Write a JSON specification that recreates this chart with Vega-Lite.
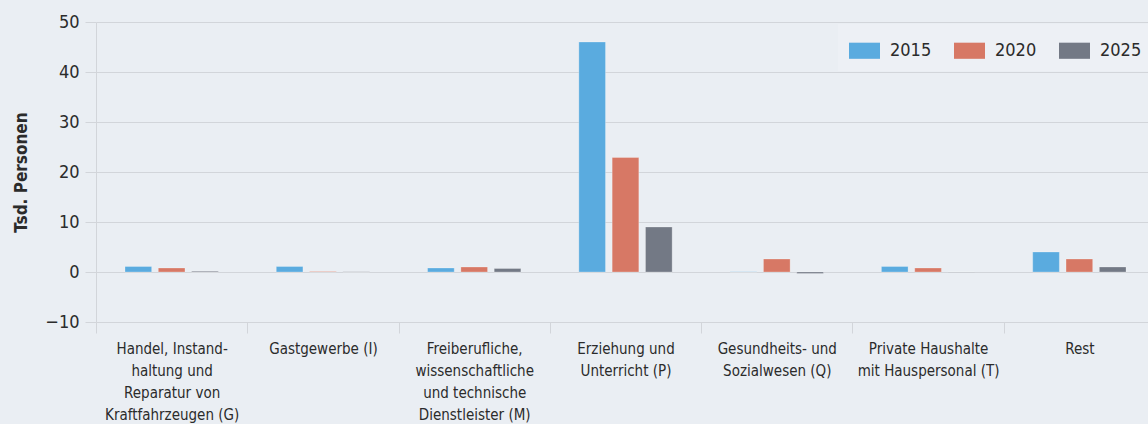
{
  "$schema": "https://vega.github.io/schema/vega-lite/v6.json",
  "autosize": {"type": "none"},
  "width": 1052,
  "height": 300,
  "padding": {"left": 96, "top": 22, "right": 0, "bottom": 102},
  "background": "#eaeef3",
  "config": {
    "view": {"stroke": null},
    "font": "DejaVu Sans Condensed",
    "axis": {"labelColor": "#2b2b2b", "titleColor": "#2b2b2b", "gridColor": "#d2d5da", "tickColor": "#d2d5da", "domainColor": "#d2d5da"}
  },
  "data": {
    "values": [
      {"cat": "Handel, Instand-|haltung und|Reparatur von|Kraftfahrzeugen (G)", "year": "2015", "value": 1.1},
      {"cat": "Handel, Instand-|haltung und|Reparatur von|Kraftfahrzeugen (G)", "year": "2020", "value": 0.8},
      {"cat": "Handel, Instand-|haltung und|Reparatur von|Kraftfahrzeugen (G)", "year": "2025", "value": 0.15},
      {"cat": "Gastgewerbe (I)", "year": "2015", "value": 1.1},
      {"cat": "Gastgewerbe (I)", "year": "2020", "value": 0.1},
      {"cat": "Gastgewerbe (I)", "year": "2025", "value": 0.05},
      {"cat": "Freiberufliche,|wissenschaftliche|und technische|Dienstleister (M)", "year": "2015", "value": 0.8},
      {"cat": "Freiberufliche,|wissenschaftliche|und technische|Dienstleister (M)", "year": "2020", "value": 1.0},
      {"cat": "Freiberufliche,|wissenschaftliche|und technische|Dienstleister (M)", "year": "2025", "value": 0.7},
      {"cat": "Erziehung und|Unterricht (P)", "year": "2015", "value": 46.0},
      {"cat": "Erziehung und|Unterricht (P)", "year": "2020", "value": 22.9},
      {"cat": "Erziehung und|Unterricht (P)", "year": "2025", "value": 9.0},
      {"cat": "Gesundheits- und|Sozialwesen (Q)", "year": "2015", "value": 0.05},
      {"cat": "Gesundheits- und|Sozialwesen (Q)", "year": "2020", "value": 2.6},
      {"cat": "Gesundheits- und|Sozialwesen (Q)", "year": "2025", "value": -0.3},
      {"cat": "Private Haushalte|mit Hauspersonal (T)", "year": "2015", "value": 1.1},
      {"cat": "Private Haushalte|mit Hauspersonal (T)", "year": "2020", "value": 0.8},
      {"cat": "Private Haushalte|mit Hauspersonal (T)", "year": "2025", "value": -0.05},
      {"cat": "Rest", "year": "2015", "value": 4.0},
      {"cat": "Rest", "year": "2020", "value": 2.6},
      {"cat": "Rest", "year": "2025", "value": 1.0}
    ]
  },
  "mark": {"type": "bar", "stroke": "#ffffff", "strokeOpacity": 0.25, "strokeWidth": 1},
  "encoding": {
    "x": {
      "field": "cat",
      "type": "nominal",
      "sort": null,
      "scale": {"range": [0, 1059], "paddingInner": 0, "paddingOuter": 0},
      "axis": {
        "title": null,
        "labelAngle": 0,
        "labelExpr": "split(datum.label, '|')",
        "labelFontSize": 15,
        "labelLineHeight": 22,
        "labelPadding": 8,
        "labelBaseline": "top",
        "labelLimit": 200,
        "domain": false,
        "ticks": true,
        "tickBand": "extent",
        "tickSize": 11,
        "grid": false
      }
    },
    "xOffset": {
      "field": "year",
      "type": "nominal",
      "scale": {"paddingInner": 0.2, "paddingOuter": 0.87}
    },
    "y": {
      "field": "value",
      "type": "quantitative",
      "scale": {"domain": [-10, 50], "nice": false},
      "axis": {
        "title": "Tsd. Personen",
        "titleFontSize": 17,
        "titleFontWeight": "bold",
        "titlePadding": 14,
        "values": [-10, 0, 10, 20, 30, 40, 50],
        "labelFontSize": 18,
        "labelPadding": 6,
        "tickSize": 11,
        "grid": true,
        "domain": true
      }
    },
    "color": {
      "field": "year",
      "type": "nominal",
      "scale": {"domain": ["2015", "2020", "2025"], "range": ["#5aabdf", "#d77865", "#737985"]},
      "legend": {
        "title": null,
        "orient": "none",
        "legendX": 742,
        "legendY": 2,
        "direction": "horizontal",
        "columns": 3,
        "fillColor": "#edf0f5",
        "padding": 11,
        "symbolType": "M-1,-0.52H1V0.52H-1Z",
        "symbolSize": 961,
        "symbolStrokeWidth": 0,
        "symbolOpacity": 1,
        "labelFontSize": 18,
        "labelColor": "#2b2b2b",
        "labelOffset": 10,
        "columnPadding": 22,
        "rowPadding": 0
      }
    }
  }
}
